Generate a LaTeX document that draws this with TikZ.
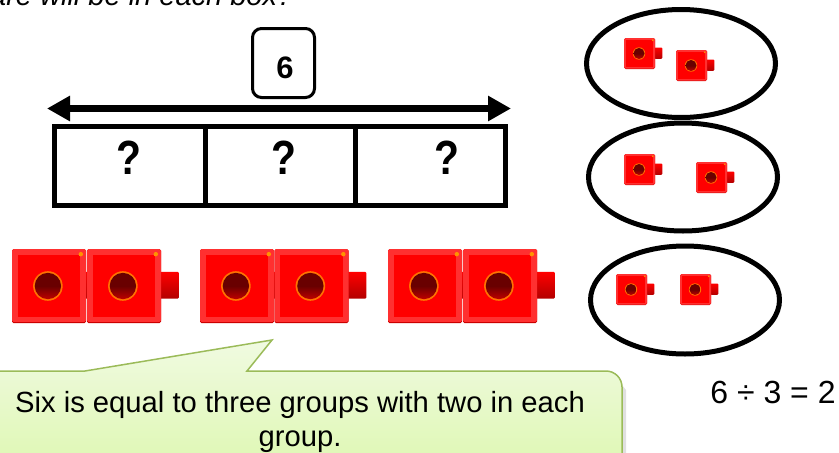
\documentclass[tikz,border=0pt]{standalone}
\usepackage{graphicx}
\usepackage{fontspec}
\setmainfont{Liberation Sans}
\definecolor{cubered}{RGB}{255,0,0}
\definecolor{cubeedge}{RGB}{255,48,48}
\definecolor{holedark}{RGB}{105,0,0}
\definecolor{calloutedge}{RGB}{155,187,89}
\definecolor{calltop}{RGB}{240,250,225}
\definecolor{callbot}{RGB}{222,248,178}
\usetikzlibrary{shapes.geometric,arrows.meta}
\tikzset{
  barcell/.style={draw=black,line width=5pt,minimum width=150.5pt,minimum height=79.5pt,inner sep=0pt,outer sep=0pt,anchor=north west},
  mark q/.style={font=\bfseries\fontsize{48}{48}\selectfont,text=black,inner sep=0pt},
  loop/.style={draw=black,line width=5pt,ellipse,inner sep=0pt,minimum width=189pt,minimum height=108pt},
}
% #1 x, #2 y of top-left corner, #3 body size in px
\newcommand{\redcube}[3]{%
  \begin{scope}[shift={(#1,#2)},x=#3*1pt,y=-#3*1pt]
    \shade[top color=red,bottom color=red!70!black,rounded corners=1pt] (.98,.31) rectangle (1.24,.67);
    \fill[red!80!black,rounded corners=1.5pt] (0,0) rectangle (1,1);
    \fill[cubeedge,rounded corners=1.5pt] (0,0) rectangle (1,.985);
    \fill[cubered] (.08,.08) rectangle (.92,.92);
    \fill[orange!85!yellow] (.93,.07) circle[radius=.03];
    \fill[orange!90!red] (.485,.5) circle[radius=.2];
    \shade[top color=holedark,bottom color=red!75!black,middle color=holedark] (.485,.5) circle[radius=.178];
  \end{scope}}
\begin{document}
\begin{tikzpicture}[x=1pt,y=-1pt]
\useasboundingbox (0,0) rectangle (839,453);
\begin{scope}
\clip (0,0) rectangle (839,453);
\node[anchor=base west,font=\itshape\fontsize{29}{29}\selectfont,inner sep=0pt] (title) at (-10,5) {are will be in each box?};

% bar
\node[barcell] (c1) at (54.5,126) {};
\node[barcell] (c2) at (205,126) {};
\node[barcell] (c3) at (355,126) {};
\node[mark q] (q1) at (129,158) {\scalebox{.85}[1]{?}};
\node[mark q] (q2) at (284,158) {\scalebox{.85}[1]{?}};
\node[mark q] (q3) at (447,158) {\scalebox{.85}[1]{?}};

% total
\node[draw=black,line width=3pt,rounded corners=9pt,minimum width=62pt,minimum height=69pt,inner sep=0pt] (six) at (283.5,63) {};
\node[font=\bfseries\fontsize{31}{31}\selectfont,inner sep=0pt] (sixt) at (285,68) {6};
\coordinate (al) at (47,108.5);
\coordinate (ar) at (511,108.5);
\draw[line width=7pt,{Triangle[length=23pt,width=24pt]}-{Triangle[length=23pt,width=24pt]}] (al) -- (ar);

% big cubes
\redcube{12}{249}{74}
\redcube{87}{249}{74}
\redcube{200}{249}{74}
\redcube{274.5}{249}{74}
\redcube{388}{249}{74}
\redcube{463}{249}{74}

% ellipses
\node[loop] (e1) at (681,63.5) {};
\node[loop] (e2) at (683,177) {};
\node[loop] (e3) at (685,300) {};
\redcube{624}{38}{31}
\redcube{676}{50}{31}
\redcube{624}{154}{31}
\redcube{696}{162}{31}
\redcube{616}{274}{31}
\redcube{680}{274}{31}

% callout
\fill[black,opacity=.12] (626,390) -- (626,470) -- (622,470) -- (622,385) -- cycle;
\shade[top color=calltop,bottom color=callbot,draw=calloutedge,line width=1.5pt]
  (-10,371) -- (85,371) -- (272,340) -- (247,371) -- (606,371)
  arc[start angle=-90,end angle=0,radius=16] -- (622,470) -- (-10,470) -- cycle;
\node[align=center,font=\fontsize{29.2}{34}\selectfont,inner sep=0pt] (say) at (300,422) {Six is equal to three groups with two in each\\group.};

\node[anchor=base,font=\fontsize{32}{32}\selectfont,inner sep=0pt] (eq) at (773,403) {6 ÷ 3 = 2};
\end{scope}
\end{tikzpicture}
\end{document}
